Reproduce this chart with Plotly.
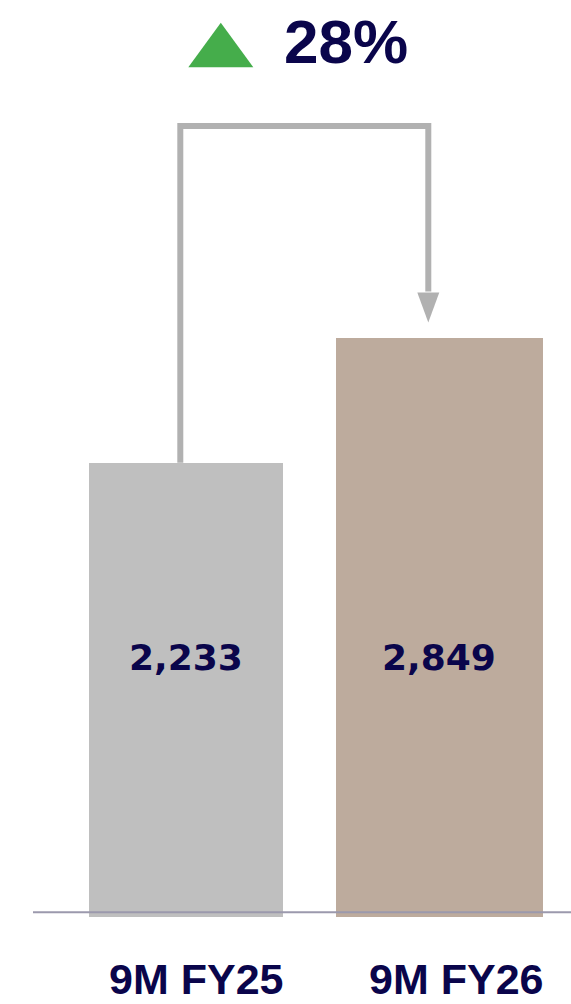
import plotly.graph_objects as go

# Nine-month comparison data
categories = ["9M FY25", "9M FY26"]
values = [2233, 2849]
bar_colors = ["#bfbfbf", "#bdab9d"]

NAVY = "#0a054b"
CONNECTOR = "#b1b1b1"
GREEN = "#45ad4b"
BASELINE = "#9b99ad"

W, H = 571, 1004
BOTTOM = 87                 # space under the zero line for category labels
PLOT_H = H - BOTTOM
PX_PER_VAL = 0.2034         # vertical scale of the value axis
X_UNIT = 253.5              # pixels between category centres
X_FIRST = 185.8             # pixel centre of the first category

bar_widths = [194 / X_UNIT, 207 / X_UNIT]
label_offsets = [10.5 / X_UNIT, 16.2 / X_UNIT]
y_max = PLOT_H / PX_PER_VAL
x_range = [-X_FIRST / X_UNIT, (W - X_FIRST) / X_UNIT]


def px_to_x(p):
    return (p - X_FIRST) / X_UNIT


def px_to_y(p):
    return (PLOT_H - p) / PX_PER_VAL


def px_to_paper_y(p):
    return (PLOT_H - p) / PLOT_H


growth = round((values[1] / values[0] - 1) * 100)

fig = go.Figure()
fig.add_trace(go.Bar(
    x=categories,
    y=values,
    width=bar_widths,
    marker=dict(color=bar_colors, line=dict(width=0)),
    hoverinfo="skip",
))

# Connector from the first bar over to an arrow above the second bar
x_left = px_to_x(180.3)
x_right = px_to_x(428.3)
y_top = px_to_y(126)
arrow_gap = 15 / PX_PER_VAL
arrow_len = 30 / PX_PER_VAL
arrow_half = 11 / X_UNIT
y_tip = values[1] + arrow_gap
y_arrow_base = y_tip + arrow_len

shapes = [
    dict(type="path", xref="x", yref="y",
         path=f"M {x_left},{values[0]} L {x_left},{y_top} L {x_right},{y_top} L {x_right},{y_arrow_base + 5}",
         line=dict(color=CONNECTOR, width=6), layer="above"),
    dict(type="path", xref="x", yref="y",
         path=f"M {x_right - arrow_half},{y_arrow_base} L {x_right + arrow_half},{y_arrow_base} L {x_right},{y_tip} Z",
         fillcolor=CONNECTOR, line=dict(width=0), layer="above"),
    # green up-triangle next to the growth figure
    dict(type="path", xref="x", yref="y",
         path=f"M {px_to_x(188.3)},{px_to_y(67.3)} L {px_to_x(253.3)},{px_to_y(67.3)} L {px_to_x(220.8)},{px_to_y(22.7)} Z",
         fillcolor=GREEN, line=dict(width=0), layer="above"),
    # baseline
    dict(type="line", xref="paper", yref="y",
         x0=33 / W, x1=1, y0=px_to_y(912.3), y1=px_to_y(912.3),
         line=dict(color=BASELINE, width=2), layer="above"),
]

annotations = [
    dict(x=px_to_x(345.8), y=px_to_y(41.5), xref="x", yref="y",
         text=f"{growth}%", showarrow=False, xanchor="center", yanchor="middle",
         font=dict(family="Liberation Sans", size=62, color=NAVY, weight="bold")),
]
for i, (cat, v) in enumerate(zip(categories, values)):
    annotations.append(dict(
        x=i, y=px_to_y(657), xref="x", yref="y",
        text=f"{v:,}", showarrow=False, xanchor="center", yanchor="middle",
        font=dict(family="DejaVu Sans", size=36, color=NAVY, weight="bold"),
    ))
    annotations.append(dict(
        x=(i + label_offsets[i] - x_range[0]) / (x_range[1] - x_range[0]),
        y=px_to_paper_y(979), xref="paper", yref="paper",
        text=cat, showarrow=False, xanchor="center", yanchor="middle",
        font=dict(family="Liberation Sans", size=43, color=NAVY, weight="bold"),
    ))

fig.update_layout(
    width=W, height=H,
    margin=dict(l=0, r=0, t=0, b=BOTTOM, pad=0),
    paper_bgcolor="white", plot_bgcolor="white",
    showlegend=False,
    bargap=0,
    shapes=shapes,
    annotations=annotations,
    xaxis=dict(range=x_range, showgrid=False, zeroline=False, showline=False,
               ticks="", showticklabels=False, automargin=False),
    yaxis=dict(range=[0, y_max], showgrid=False, zeroline=False, showline=False,
               showticklabels=False, ticks="", automargin=False),
)

fig.write_html("out.html")
